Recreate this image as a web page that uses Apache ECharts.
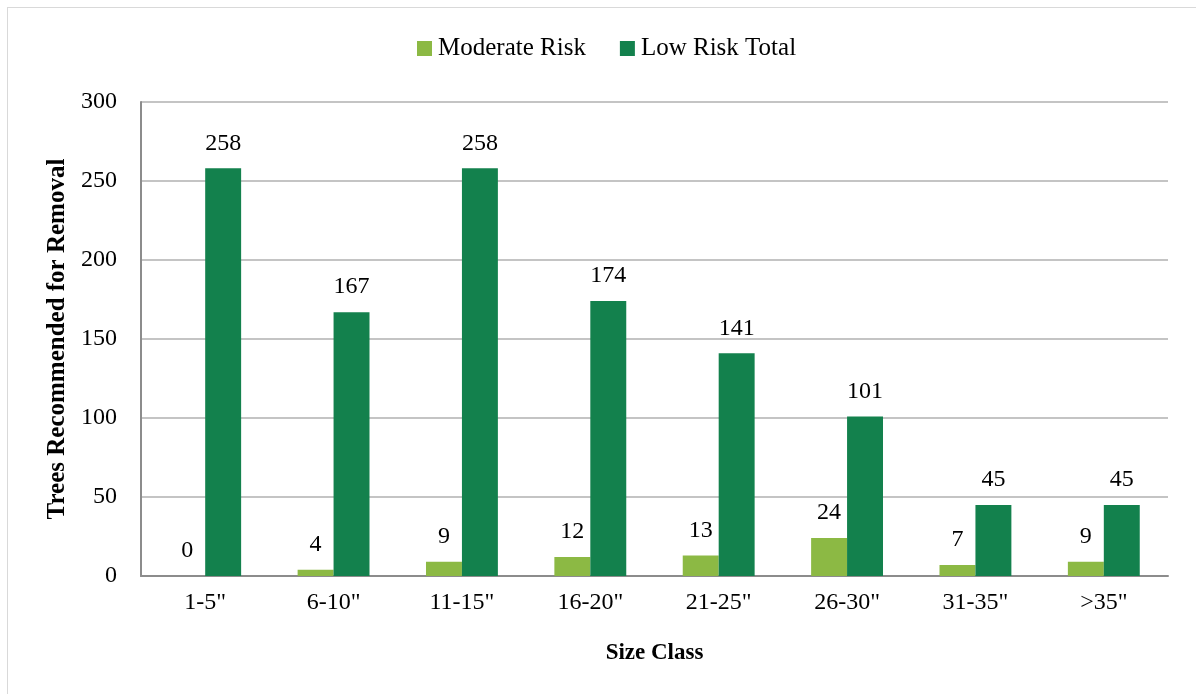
<!DOCTYPE html>
<html>
<head>
<meta charset="utf-8">
<script src="https://cdn.jsdelivr.net/npm/echarts@6/dist/echarts.min.js"></script>
<style>
  html, body { margin: 0; padding: 0; background: #fff; overflow: hidden; }
  #frame { position: absolute; left: 7px; top: 7px; width: 1200px; height: 700px; border: 1.5px solid #d9d9d9; box-sizing: border-box; }
  #chart { position: absolute; left: 0; top: 0; width: 1196px; height: 694px; }
</style>
</head>
<body>
<div id="frame"></div>
<div id="chart"></div>
<script>
  var categories = ['1-5"', '6-10"', '11-15"', '16-20"', '21-25"', '26-30"', '31-35"', '>35"'];
  var moderateRisk = [0, 4, 9, 12, 13, 24, 7, 9];
  var lowRiskTotal = [258, 167, 258, 174, 141, 101, 45, 45];
  var yTicks = { min: 0, max: 300, interval: 50 };

  var font = '"Liberation Serif", "DejaVu Serif", serif';
  var chart = echarts.init(document.getElementById('chart'));

  chart.setOption({
    animation: false,
    textStyle: { fontFamily: font, color: '#000' },
    legend: {
      top: 31,
      left: 412,
      itemWidth: 15,
      itemHeight: 15,
      itemGap: 34,
      icon: 'rect',
      textStyle: { fontFamily: font, fontSize: 25, color: '#000', padding: [0, 0, 0, 1] },
      data: ['Moderate Risk', 'Low Risk Total']
    },
    grid: { left: 141, right: 28, top: 102, bottom: 118 },
    xAxis: {
      type: 'category',
      data: categories,
      name: 'Size Class',
      nameLocation: 'middle',
      nameGap: 66,
      nameTextStyle: { fontFamily: font, fontSize: 23, fontWeight: 'bold', color: '#000' },
      axisLine: { lineStyle: { color: '#8c8c8c', width: 2 } },
      axisTick: { show: false },
      axisLabel: { fontFamily: font, fontSize: 24, color: '#000', margin: 15 }
    },
    yAxis: {
      type: 'value',
      min: yTicks.min,
      max: yTicks.max,
      interval: yTicks.interval,
      name: 'Trees Recommended for Removal',
      nameLocation: 'middle',
      nameGap: 68,
      nameTextStyle: { fontFamily: font, fontSize: 25, fontWeight: 'bold', color: '#000' },
      axisLine: { show: true, lineStyle: { color: '#8c8c8c', width: 2 } },
      axisTick: { show: false },
      axisLabel: { fontFamily: font, fontSize: 24, color: '#000', margin: 24 },
      splitLine: { lineStyle: { color: '#c4c4c4', width: 2 } }
    },
    series: [
      {
        name: 'Moderate Risk',
        type: 'bar',
        data: moderateRisk,
        barWidth: '28%',
        barGap: '0%',
        itemStyle: { color: '#8cb944' },
        label: { show: true, position: 'top', distance: 13, fontFamily: font, fontSize: 24, color: '#000' }
      },
      {
        name: 'Low Risk Total',
        type: 'bar',
        data: lowRiskTotal,
        barWidth: '28%',
        itemStyle: { color: '#13814d' },
        label: { show: true, position: 'top', distance: 13, fontFamily: font, fontSize: 24, color: '#000' }
      }
    ]
  });
</script>
</body>
</html>
